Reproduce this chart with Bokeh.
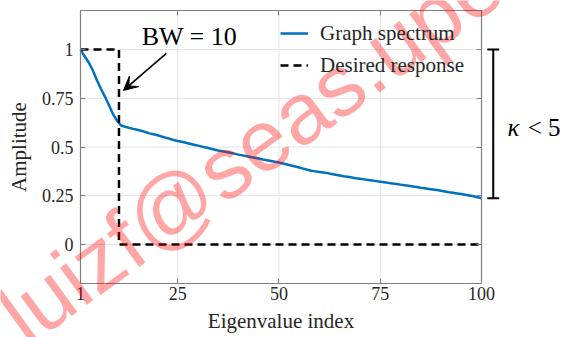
from bokeh.plotting import figure
from bokeh.models import (FixedTicker, LinearAxis, Range1d, Legend, LegendItem,
                          Label, Arrow, TeeHead, VeeHead, CustomJSTickFormatter)
from bokeh.embed import file_html
from bokeh.resources import INLINE

# ---------------- data ----------------
eig_index = list(range(1, 101))
graph_spectrum = [
    1.000, 0.965, 0.935, 0.895, 0.845, 0.800, 0.760, 0.715, 0.670, 0.635,
    0.610, 0.604, 0.598, 0.593, 0.588, 0.583, 0.577, 0.570, 0.565, 0.560,
    0.554, 0.548, 0.542, 0.536, 0.531, 0.527, 0.522, 0.517, 0.512, 0.507,
    0.502, 0.497, 0.492, 0.487, 0.482, 0.478, 0.474, 0.470, 0.466, 0.461,
    0.457, 0.453, 0.449, 0.445, 0.441, 0.436, 0.432, 0.428, 0.424, 0.420,
    0.415, 0.410, 0.405, 0.400, 0.395, 0.389, 0.383, 0.378, 0.375, 0.372,
    0.369, 0.366, 0.362, 0.358, 0.354, 0.350, 0.347, 0.344, 0.340, 0.337,
    0.334, 0.331, 0.328, 0.325, 0.322, 0.319, 0.316, 0.313, 0.310, 0.307,
    0.304, 0.301, 0.298, 0.295, 0.291, 0.288, 0.285, 0.282, 0.279, 0.276,
    0.272, 0.268, 0.265, 0.262, 0.259, 0.255, 0.251, 0.247, 0.242, 0.237,
]
desired_x = [1, 10.5, 10.5, 100]
desired_y = [1, 1, 0, 0]

x_lim = (1, 100)
y_lim = (-0.2, 1.2)
x_ticks = [1, 25, 50, 75, 100]
y_ticks = [0, 0.25, 0.5, 0.75, 1]
y_tick_labels = ["0", "0.25", "0.5", "0.75", "1"]

bw_text = "BW = 10"
bw_arrow_from = (22.2, 0.98)
bw_arrow_to = (11.6, 0.79)
kappa_range = (1.0, 0.237)
watermark = "luizf@seas.upenn.edu"

# ---------------- layout (pixels) ----------------
W, H = 569, 337
FL, FR, FT, FB = 80, 481, 10, 283          # axes box inside the canvas
sx = (x_lim[1] - x_lim[0]) / (FR - FL)     # data units per pixel
sy = (y_lim[1] - y_lim[0]) / (FB - FT)
xr = Range1d(x_lim[0] - FL * sx, x_lim[0] - FL * sx + W * sx)
yr = Range1d(y_lim[1] + FT * sy - H * sy, y_lim[1] + FT * sy)


def px_x(px):
    return xr.start + px * sx


def px_y(py):
    return yr.end - py * sy


SERIF = "Liberation Serif"
TXT = "#262626"
FRAME = "#808080"
GRID = "#e3e3e3"

p = figure(width=W, height=H, output_backend="svg", toolbar_location=None,
           x_range=xr, y_range=yr, x_axis_location=None, y_axis_location=None,
           min_border=0)
p.min_border_left = p.min_border_right = p.min_border_top = p.min_border_bottom = 0
p.background_fill_color = "white"
p.border_fill_color = "white"
p.outline_line_color = None
p.grid.visible = False

# grid lines (from tick lists and axis limits)
gx = [t for t in x_ticks if x_lim[0] < t < x_lim[1]]
gy = [t for t in y_ticks]
p.segment(x0=gx, y0=[y_lim[0]] * len(gx), x1=gx, y1=[y_lim[1]] * len(gx),
          line_color=GRID, line_width=1)
p.segment(x0=[x_lim[0]] * len(gy), y0=gy, x1=[x_lim[1]] * len(gy), y1=gy,
          line_color=GRID, line_width=1)

r_spec = p.line(eig_index, graph_spectrum, line_color="#0072BD", line_width=2.5)
r_des = p.line(desired_x, desired_y, line_color="black", line_width=2.5,
               line_dash="8 5")


def style_axis(ax):
    ax.major_tick_in = 5
    ax.major_tick_out = 0
    ax.minor_tick_in = 0
    ax.minor_tick_out = 0
    ax.axis_line_color = FRAME
    ax.axis_line_width = 1.2
    ax.major_tick_line_color = FRAME
    ax.major_label_text_font = SERIF
    ax.major_label_text_font_style = "normal"
    ax.major_label_text_font_size = "18px"
    ax.major_label_text_color = TXT
    ax.axis_label_text_font = SERIF
    ax.axis_label_text_font_size = "21px"
    ax.axis_label_text_font_style = "normal"
    ax.axis_label_text_color = TXT


xax = LinearAxis(ticker=FixedTicker(ticks=x_ticks), fixed_location=y_lim[0],
                 bounds=x_lim, axis_label="Eigenvalue index")
style_axis(xax)
xax.major_label_standoff = 3
xax.axis_label_standoff = 6
p.add_layout(xax, "below")

yax = LinearAxis(ticker=FixedTicker(ticks=y_ticks), fixed_location=x_lim[0],
                 bounds=y_lim, axis_label="Amplitude")
style_axis(yax)
yax.major_label_overrides = {t: l for t, l in zip(y_ticks, y_tick_labels)}
yax.major_label_standoff = 7
yax.axis_label_standoff = 8
p.add_layout(yax, "left")

blank = CustomJSTickFormatter(code="return ''")
rax = LinearAxis(ticker=FixedTicker(ticks=y_ticks), fixed_location=x_lim[1],
                 bounds=y_lim, formatter=blank)
style_axis(rax)
p.add_layout(rax, "right")
tax = LinearAxis(ticker=FixedTicker(ticks=x_ticks), fixed_location=y_lim[1],
                 bounds=x_lim, formatter=blank)
style_axis(tax)
p.add_layout(tax, "above")

legend = Legend(items=[LegendItem(label="Graph spectrum", renderers=[r_spec]),
                       LegendItem(label="Desired response", renderers=[r_des])],
                location=(274, H - 86), orientation="vertical")
legend.background_fill_alpha = 0
legend.border_line_alpha = 0
legend.padding = 6
legend.margin = 0
legend.spacing = 2
legend.glyph_width = 28
legend.glyph_height = 30
legend.label_height = 30
legend.label_standoff = 12
legend.label_text_font = SERIF
legend.label_text_font_size = "21px"
legend.label_text_color = TXT
p.add_layout(legend, "center")

# BW annotation
p.add_layout(Label(x=27.9, y=1.067, text=bw_text, text_font=SERIF,
                   text_font_size="26px", text_color="black",
                   text_align="center", text_baseline="middle"))
p.add_layout(Arrow(end=VeeHead(size=14, fill_color="black", line_color="black"),
                   x_start=bw_arrow_from[0], y_start=bw_arrow_from[1],
                   x_end=bw_arrow_to[0], y_end=bw_arrow_to[1],
                   line_color="black", line_width=1.6))

# kappa bracket
p.add_layout(Arrow(start=TeeHead(size=12, line_width=2, line_color="black"),
                   end=TeeHead(size=12, line_width=2, line_color="black"),
                   x_start=102.9, y_start=kappa_range[0],
                   x_end=102.9, y_end=kappa_range[1],
                   line_color="black", line_width=2))
p.add_layout(Label(x=106.4, y=0.598, text="κ", text_font=SERIF,
                   text_font_style="italic", text_font_size="25px",
                   text_color="black", text_baseline="middle"))
p.add_layout(Label(x=111.4, y=0.598, text="< 5", text_font=SERIF,
                   text_font_size="25px", text_color="black",
                   text_baseline="middle"))

# watermark
p.add_layout(Label(x=px_x(9), y=px_y(323), text=watermark, angle=36,
                   angle_units="deg", text_font="Liberation Sans",
                   text_font_size="87px", text_color="red", text_alpha=0.35,
                   text_align="left", text_baseline="alphabetic"))

open("out.html", "w").write(file_html(p, INLINE))
